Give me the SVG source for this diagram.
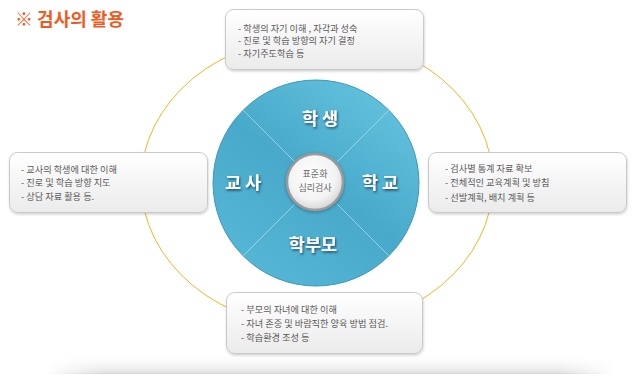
<svg xmlns="http://www.w3.org/2000/svg" width="640" height="377" viewBox="0 0 640 377">
<style>
.box{fill:url(#boxg);stroke:#c9c9c9;stroke-width:1;filter:url(#sh)}
.bt{font-family:"Noto Sans CJK KR","Noto Sans",sans-serif;font-size:9.2px;fill:#5a5a5a}
.lbl{font-family:"Noto Sans CJK KR","Noto Sans",sans-serif;font-size:17.5px;font-weight:bold;fill:#fff;text-anchor:middle;filter:url(#ts)}
.ct{font-family:"Noto Sans CJK KR","Noto Sans",sans-serif;font-size:9px;fill:#666;text-anchor:middle}
.div{stroke:#a8dcec;stroke-width:1;stroke-opacity:0.8}
</style>
<defs>
<linearGradient id="boxg" x1="0" y1="0" x2="0" y2="1">
<stop offset="0" stop-color="#ffffff"/>
<stop offset="1" stop-color="#ebebeb"/>
</linearGradient>
<linearGradient id="discg" x1="0.8" y1="0.1" x2="0.2" y2="0.9">
<stop offset="0" stop-color="#60bfdb"/>
<stop offset="0.5" stop-color="#48a9ca"/>
<stop offset="1" stop-color="#55b5d4"/>
</linearGradient>
<radialGradient id="cg" cx="0.45" cy="0.4" r="0.6">
<stop offset="0" stop-color="#ffffff"/>
<stop offset="0.7" stop-color="#f3f3f3"/>
<stop offset="1" stop-color="#d6d6d6"/>
</radialGradient>
<linearGradient id="bandg" x1="0" y1="0" x2="0" y2="1">
<stop offset="0" stop-color="#ffffff" stop-opacity="0"/>
<stop offset="1" stop-color="#e2e2e2"/>
</linearGradient>
<linearGradient id="bandh" x1="0" y1="0" x2="1" y2="0">
<stop offset="0" stop-color="#fff" stop-opacity="0"/>
<stop offset="0.1" stop-color="#fff" stop-opacity="1"/>
<stop offset="0.9" stop-color="#fff" stop-opacity="1"/>
<stop offset="1" stop-color="#fff" stop-opacity="0"/>
</linearGradient>
<mask id="bandm"><rect x="45" y="350" width="570" height="27" fill="url(#bandh)"/></mask>
<filter id="sh" x="-10%" y="-20%" width="120%" height="150%">
<feDropShadow dx="0.5" dy="1.5" stdDeviation="1.2" flood-color="#000" flood-opacity="0.18"/>
</filter>
<filter id="ts" x="-20%" y="-30%" width="140%" height="160%">
<feDropShadow dx="1" dy="1.5" stdDeviation="0.8" flood-color="#123e58" flood-opacity="0.9"/>
</filter>
<filter id="cs" x="-30%" y="-30%" width="160%" height="160%">
<feDropShadow dx="0" dy="1" stdDeviation="1.5" flood-color="#0b3a50" flood-opacity="0.5"/>
</filter>
</defs>
<rect width="640" height="377" fill="#fff"/>
<g id="band" mask="url(#bandm)">
<rect x="45" y="353" width="570" height="20" fill="url(#bandg)"/>
<line x1="45" y1="373.5" x2="615" y2="373.5" stroke="#d6d6d6" stroke-width="1"/>
</g>
<g id="title">
<text x="15" y="26" font-family="'Noto Sans CJK KR','Noto Sans',sans-serif" font-size="18" font-weight="bold" fill="#f3591f">※ 검사의 활용</text>
</g>
<g id="connectors">
<ellipse cx="317" cy="182" rx="176" ry="146" fill="none" stroke="#f5b324" stroke-width="1"/>
</g>
<g id="center">
<circle cx="316" cy="183" r="103" fill="url(#discg)" stroke="#3d97b8" stroke-width="1"/>
<line class="div" x1="295" y1="162" x2="243.2" y2="110.2"/>
<line class="div" x1="337" y1="162" x2="388.8" y2="110.2"/>
<line class="div" x1="295" y1="204" x2="243.2" y2="255.8"/>
<line class="div" x1="337" y1="204" x2="388.8" y2="255.8"/>
<circle cx="315" cy="182" r="28" fill="url(#cg)" stroke="#9a9a9a" stroke-width="2.5" filter="url(#cs)"/>
<text class="ct" x="315" y="177">표준화</text>
<text class="ct" x="315" y="190.5">심리검사</text>
<text class="lbl" x="320" y="125">학 생</text>
<text class="lbl" x="243" y="189">교 사</text>
<text class="lbl" x="380" y="189">학 교</text>
<text class="lbl" x="313" y="251">학부모</text>
</g>
<g id="node-top">
<rect class="box" x="225.5" y="9.5" width="198" height="60" rx="8"/>
<text class="bt" x="238" y="31.5">- 학생의 자기 이해 , 자각과 성숙</text>
<text class="bt" x="238" y="44">- 진로 및 학습 방향의 자기 결정</text>
<text class="bt" x="238" y="56.5">- 자기주도학습  등</text>
</g>
<g id="node-left">
<rect class="box" x="9.5" y="152.5" width="198" height="60" rx="8"/>
<text class="bt" x="21" y="172.5">- 교사의 학생에 대한 이해</text>
<text class="bt" x="21" y="186">- 진로 및 학습 방향 지도</text>
<text class="bt" x="21" y="199.5">- 상담 자료 활용 등.</text>
</g>
<g id="node-right">
<rect class="box" x="428.5" y="152.5" width="198" height="60" rx="8"/>
<text class="bt" x="445" y="171.5">- 검사별 통계 자료 확보</text>
<text class="bt" x="445" y="186">- 전체적인 교육계획 및 방침</text>
<text class="bt" x="445" y="200.5">- 선발계획, 배치 계획 등</text>
</g>
<g id="node-bottom">
<rect class="box" x="226.5" y="292.5" width="196" height="61" rx="8"/>
<text class="bt" x="241" y="312.5">- 부모의 자녀에 대한 이해</text>
<text class="bt" x="241" y="327">- 자녀 존중 및 바람직한 양육 방법 점검.</text>
<text class="bt" x="241" y="340.5">- 학습환경 조성 등</text>
</g>
</svg>
